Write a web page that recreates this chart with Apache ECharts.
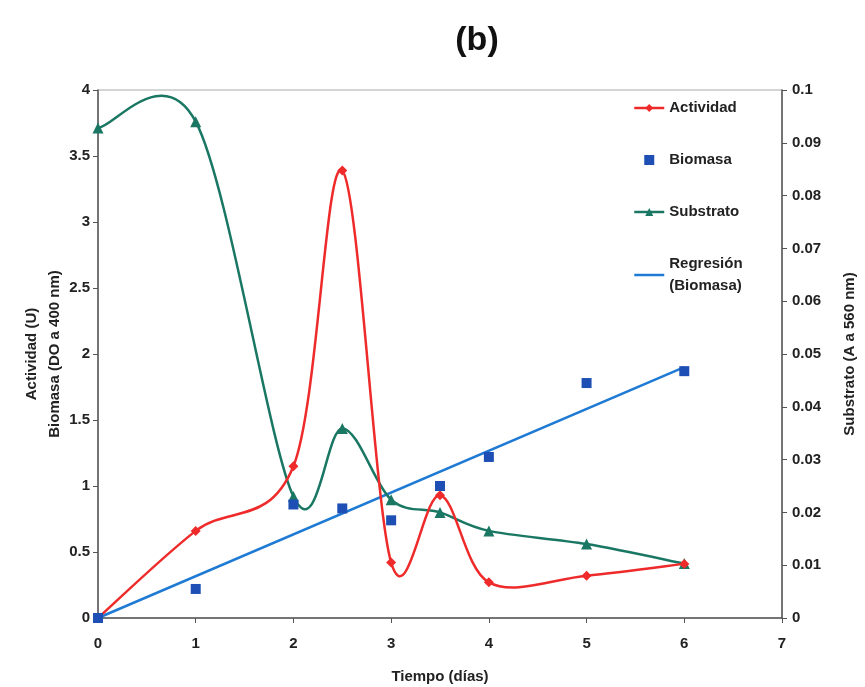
<!DOCTYPE html>
<html>
<head>
<meta charset="utf-8">
<script src="https://cdn.jsdelivr.net/npm/echarts@6/dist/echarts.min.js"></script>
<style>
  html, body { margin: 0; padding: 0; background: #fff; }
  #chart { width: 865px; height: 687px; }
</style>
</head>
<body>
<div id="chart"></div>
<script>
// Tiempo (días)
var dias = [0, 1, 2, 2.5, 3, 3.5, 4, 5, 6]
var actividad = [0, 0.66, 1.15, 3.39, 0.42, 0.93, 0.27, 0.32, 0.41]
var biomasa = [0, 0.22, 0.86, 0.83, 0.74, 1.0, 1.22, 1.78, 1.87]
var substrato = [0.0928, 0.094, 0.023, 0.0359, 0.0224, 0.020, 0.0165, 0.014, 0.0103]
// recta de regresión de la biomasa (extremos)
var regresionX = [0, 6]
var regresionY = [0, 1.9]

var rojo = '#ee2a2a'
var azul = '#1d4fb4'
var verde = '#1a7763'
var azulRecta = '#1f7ad4'
var fuente = 'Liberation Sans'

function pares(xs, ys) {
  var out = []
  for (var i = 0; i < xs.length; i++) {
    out.push([xs[i], ys[i]])
  }
  return out
}

// curva suavizada tipo Excel (Catmull-Rom) entre los puntos medidos,
// cada item dibuja el tramo i -> i+1 en coordenadas de pixel
function curvaSuave(datos, color) {
  return function (params, api) {
    var i = params.dataIndex
    if (i >= datos.length - 1) return null
    var p = datos.map(function (d) { return api.coord(d) })
    var p0 = p[Math.max(i - 1, 0)]
    var p1 = p[i]
    var p2 = p[i + 1]
    var p3 = p[Math.min(i + 2, p.length - 1)]
    return {
      type: 'bezierCurve',
      shape: {
        x1: p1[0], y1: p1[1],
        x2: p2[0], y2: p2[1],
        cpx1: p1[0] + (p2[0] - p0[0]) / 6,
        cpy1: p1[1] + (p2[1] - p0[1]) / 6,
        cpx2: p2[0] - (p3[0] - p1[0]) / 6,
        cpy2: p2[1] - (p3[1] - p1[1]) / 6
      },
      style: { stroke: color, lineWidth: 2.5, fill: null }
    }
  }
}

var datosActividad = pares(dias, actividad)
var datosSubstrato = pares(dias, substrato)

var chart = echarts.init(document.getElementById('chart'))

chart.setOption({
  backgroundColor: '#fff',
  animation: false,
  title: {
    text: '(b)',
    left: 472,
    top: 19,
    textAlign: 'center',
    textStyle: { fontFamily: fuente, fontSize: 34, fontWeight: 'bold', color: '#111' }
  },
  grid: {
    left: 98,
    right: 83,
    top: 90,
    bottom: 69,
    outerBoundsMode: 'none',
    show: true,
    borderColor: '#aaa',
    borderWidth: 1
  },
  legend: {
    orient: 'vertical',
    left: 628,
    top: 92,
    itemGap: 30,
    itemWidth: 30,
    itemHeight: 10,
    textStyle: { fontFamily: fuente, fontSize: 15, fontWeight: 'bold', color: '#222', lineHeight: 22 },
    data: [
      { name: 'Actividad', lineStyle: { color: rojo, width: 2.5, opacity: 1 } },
      { name: 'Biomasa', icon: 'path://M0,0H10V10H0Z' },
      { name: 'Substrato', lineStyle: { color: verde, width: 2.5, opacity: 1 } },
      { name: 'Regresión\n(Biomasa)', icon: 'path://M0,0H30V2.5H0Z' }
    ]
  },
  xAxis: {
    type: 'value',
    min: 0,
    max: 7,
    interval: 1,
    name: 'Tiempo (días)',
    nameLocation: 'middle',
    nameGap: 51,
    nameTextStyle: { fontFamily: fuente, fontSize: 15, fontWeight: 'bold', color: '#222' },
    axisLine: { lineStyle: { color: '#555', width: 1.5 } },
    axisTick: { length: 5, lineStyle: { color: '#555' } },
    axisLabel: { fontFamily: fuente, fontSize: 15, fontWeight: 'bold', color: '#222', margin: 18 },
    splitLine: { show: false }
  },
  yAxis: [{
    type: 'value',
    min: 0,
    max: 4,
    interval: 0.5,
    name: 'Actividad (U)\nBiomasa (DO a 400 nm)',
    nameLocation: 'middle',
    nameGap: 32,
    nameMoveOverlap: false,
    nameTextStyle: { fontFamily: fuente, fontSize: 15, fontWeight: 'bold', color: '#222', lineHeight: 23 },
    axisLine: { show: true, lineStyle: { color: '#555', width: 1.5 } },
    axisTick: { show: true, length: 5, lineStyle: { color: '#555' } },
    axisLabel: { fontFamily: fuente, fontSize: 15, fontWeight: 'bold', color: '#222', margin: 8 },
    splitLine: { show: false }
  }, {
    type: 'value',
    min: 0,
    max: 0.1,
    interval: 0.01,
    name: 'Substrato (A a 560 nm)',
    nameLocation: 'middle',
    nameGap: 60,
    nameTextStyle: { fontFamily: fuente, fontSize: 15, fontWeight: 'bold', color: '#222' },
    axisLine: { show: true, lineStyle: { color: '#555', width: 1.5 } },
    axisTick: { show: true, length: 5, lineStyle: { color: '#555' } },
    axisLabel: { fontFamily: fuente, fontSize: 15, fontWeight: 'bold', color: '#222', margin: 10 },
    splitLine: { show: false }
  }],
  series: [{
    name: 'Actividad',
    type: 'line',
    data: datosActividad,
    symbol: 'diamond',
    symbolSize: 10,
    z: 6,
    itemStyle: { color: rojo },
    lineStyle: { color: rojo, width: 2.5, opacity: 0 }
  }, {
    name: 'Biomasa',
    type: 'scatter',
    data: pares(dias, biomasa),
    symbol: 'rect',
    symbolSize: 10,
    z: 7,
    itemStyle: { color: azul, opacity: 1 }
  }, {
    name: 'Substrato',
    type: 'line',
    yAxisIndex: 1,
    data: datosSubstrato,
    symbol: 'triangle',
    symbolSize: 11,
    z: 5,
    itemStyle: { color: verde },
    lineStyle: { color: verde, width: 2.5, opacity: 0 }
  }, {
    name: 'Regresión\n(Biomasa)',
    type: 'line',
    data: pares(regresionX, regresionY),
    symbol: 'none',
    z: 2,
    itemStyle: { color: azulRecta },
    lineStyle: { color: azulRecta, width: 2.5 }
  }, {
    name: 'curva Actividad',
    type: 'custom',
    data: datosActividad,
    z: 4,
    renderItem: curvaSuave(datosActividad, rojo)
  }, {
    name: 'curva Substrato',
    type: 'custom',
    yAxisIndex: 1,
    data: datosSubstrato,
    z: 3,
    renderItem: curvaSuave(datosSubstrato, verde)
  }]
})
</script>
</body>
</html>
